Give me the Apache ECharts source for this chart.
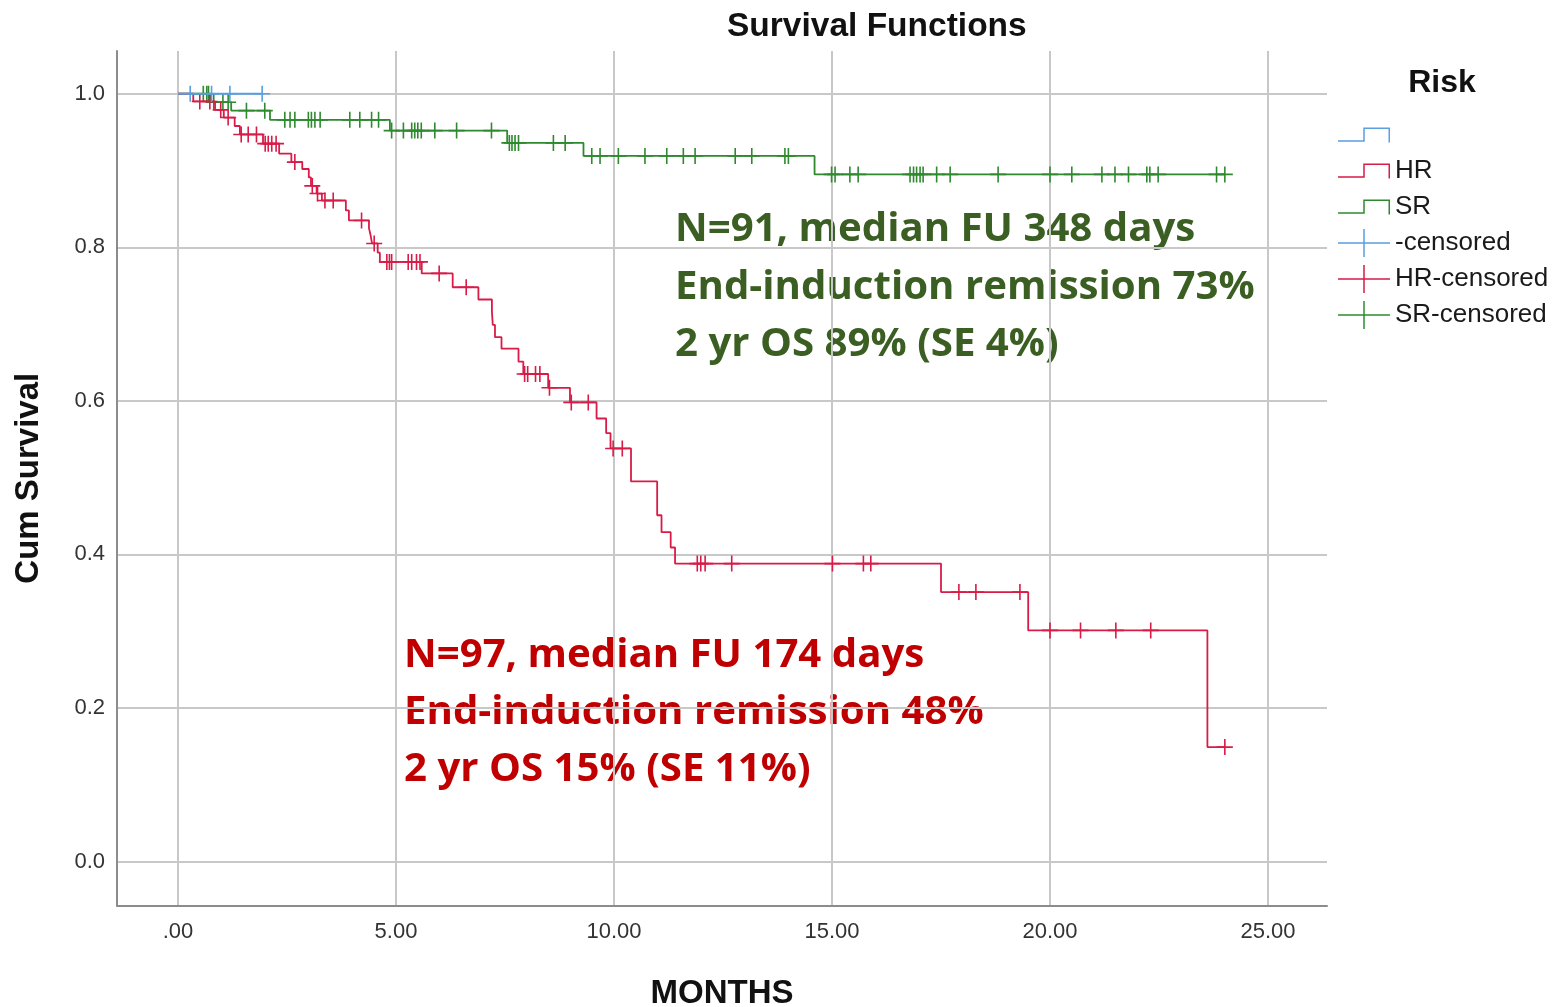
<!DOCTYPE html>
<html>
<head>
<meta charset="utf-8">
<script src="https://cdn.jsdelivr.net/npm/echarts@6/dist/echarts.min.js"></script>
<style>
html,body{margin:0;padding:0;background:#fff;}
#chart{width:1555px;height:1007px;}
</style>
</head>
<body>
<div id="chart"></div>
<script>
// ---- data (months, cumulative survival) ----
const xTicks = [0, 5, 10, 15, 20, 25];
const xTickLabels = ['.00', '5.00', '10.00', '15.00', '20.00', '25.00'];
const yTicks = [0, 0.2, 0.4, 0.6, 0.8, 1.0];
const yTickLabels = ['0.0', '0.2', '0.4', '0.6', '0.8', '1.0'];

const blankSteps = [[0, 1], [1.93, 1]];
const blankCensored = [[0.28, 1], [0.77, 1], [1.19, 1], [1.93, 1]];

const hrSteps = [
  [0, 1], [0.35, 0.990], [0.85, 0.979], [1.05, 0.969], [1.30, 0.958], [1.42, 0.947],
  [1.95, 0.935], [2.32, 0.922], [2.60, 0.911], [2.85, 0.902], [3.00, 0.891], [3.05, 0.880],
  [3.18, 0.870], [3.30, 0.861], [3.85, 0.848], [3.92, 0.835], [4.38, 0.825], [4.42, 0.815],
  [4.45, 0.805], [4.58, 0.793], [4.63, 0.781], [5.59, 0.766], [6.30, 0.748], [6.89, 0.732],
  [7.20, 0.716], [7.22, 0.699], [7.27, 0.683], [7.42, 0.668], [7.81, 0.651], [7.92, 0.635],
  [8.49, 0.617], [8.99, 0.598], [9.60, 0.577], [9.82, 0.558], [9.92, 0.538], [10.39, 0.495],
  [10.99, 0.451], [11.09, 0.429], [11.30, 0.409], [11.40, 0.388], [17.50, 0.351],
  [19.50, 0.301], [23.61, 0.149], [24.01, 0.149]
];
const hrCensored = [
  [0.50, 0.990], [0.73, 0.990], [0.98, 0.979], [1.15, 0.969], [1.45, 0.947], [1.61, 0.947],
  [1.80, 0.947], [2.00, 0.935], [2.07, 0.935], [2.15, 0.935], [2.25, 0.935], [2.68, 0.911],
  [3.08, 0.880], [3.20, 0.870], [3.37, 0.861], [3.56, 0.861], [4.21, 0.835], [4.50, 0.805],
  [4.79, 0.781], [4.85, 0.781], [4.90, 0.781], [5.28, 0.781], [5.36, 0.781], [5.47, 0.781],
  [5.55, 0.781], [5.99, 0.766], [6.61, 0.748], [7.95, 0.635], [8.02, 0.635], [8.20, 0.635],
  [8.30, 0.635], [8.52, 0.617], [9.02, 0.598], [9.41, 0.598], [9.98, 0.538], [10.19, 0.538],
  [11.91, 0.388], [11.99, 0.388], [12.09, 0.388], [12.70, 0.388], [15.01, 0.388],
  [15.72, 0.388], [15.89, 0.388], [17.91, 0.351], [18.30, 0.351], [19.31, 0.351],
  [20.00, 0.301], [20.70, 0.301], [21.51, 0.301], [22.31, 0.301], [24.01, 0.149]
];

const srSteps = [
  [0, 1], [0.75, 0.989], [1.22, 0.978], [2.11, 0.966], [4.86, 0.952], [7.55, 0.936],
  [9.30, 0.919], [14.60, 0.895], [24.01, 0.895]
];
const srCensored = [
  [0.58, 1], [0.66, 1], [0.70, 1],
  [0.82, 0.989], [1.03, 0.989], [1.15, 0.989],
  [1.57, 0.978], [1.99, 0.978],
  [2.45, 0.966], [2.57, 0.966], [2.68, 0.966], [2.99, 0.966], [3.06, 0.966], [3.14, 0.966],
  [3.26, 0.966], [3.94, 0.966], [4.17, 0.966], [4.44, 0.966], [4.60, 0.966],
  [4.90, 0.952], [5.17, 0.952], [5.36, 0.952], [5.43, 0.952], [5.50, 0.952], [5.58, 0.952],
  [5.89, 0.952], [6.39, 0.952], [7.19, 0.952],
  [7.60, 0.936], [7.66, 0.936], [7.73, 0.936], [7.81, 0.936], [8.61, 0.936], [8.88, 0.936],
  [9.49, 0.919], [9.68, 0.919], [10.10, 0.919], [10.71, 0.919], [11.21, 0.919], [11.59, 0.919],
  [11.86, 0.919], [12.78, 0.919], [13.16, 0.919], [13.92, 0.919], [14.00, 0.919],
  [14.99, 0.895], [15.07, 0.895], [15.41, 0.895], [15.60, 0.895], [16.79, 0.895], [16.87, 0.895],
  [16.94, 0.895], [17.02, 0.895], [17.09, 0.895], [17.40, 0.895], [17.71, 0.895], [18.81, 0.895],
  [20.00, 0.895], [20.50, 0.895], [21.19, 0.895], [21.49, 0.895], [21.80, 0.895], [22.22, 0.895],
  [22.29, 0.895], [22.48, 0.895], [23.82, 0.895], [24.01, 0.895]
];

const srNotes = ['N=91, median FU 348 days', 'End-induction remission 73%', '2 yr OS 89% (SE 4%)'];
const hrNotes = ['N=97, median FU 174 days', 'End-induction remission 48%', '2 yr OS 15% (SE 11%)'];

// ---- styles ----
const BLUE = '#5a9fe0', RED = '#d81b47', GREEN = '#2f8a2f';
const FONT = '"Liberation Sans", Arial, sans-serif';
const PLUS = 'path://M7.2,0H8.8V7.2H16V8.8H8.8V16H7.2V8.8H0V7.2H7.2Z';
const STEP_ICON = 'path://M0,12.75H25.25V0H52V15H50.5V1.5H26.75V14.25H0Z';
const CROSS_ICON = 'path://M0,13.25H25.25V0H26.75V13.25H52V14.75H26.75V28H25.25V14.75H0Z';

function stepSeries(name, data, color, z) {
  return { name, type: 'line', step: 'end', data, color, symbol: 'none', z,
    lineStyle: { width: 1.8, color }, emphasis: { disabled: true } };
}
function censorSeries(name, data, color, z) {
  return { name, type: 'scatter', data, color, symbol: PLUS, symbolSize: 16, z,
    itemStyle: { color, opacity: 1 }, emphasis: { disabled: true } };
}

const chart = echarts.init(document.getElementById('chart'), null, { renderer: 'canvas' });

const NOTE_FONT = 'bold 40.2px "Open Sans", sans-serif';
const noteGraphics = [];
srNotes.forEach((t, i) => noteGraphics.push({ type: 'text', x: 675, y: 230 + i * 57.5,
  style: { text: t, font: NOTE_FONT, fill: '#3b5e23', verticalAlign: 'middle' } }));
hrNotes.forEach((t, i) => noteGraphics.push({ type: 'text', x: 404, y: 656 + i * 57,
  style: { text: t, font: NOTE_FONT, fill: '#c00000', verticalAlign: 'middle' } }));
noteGraphics.push({ type: 'text', x: 1442, y: 83,
  style: { text: 'Risk', font: 'bold 32px ' + FONT, fill: '#111', align: 'center', verticalAlign: 'middle' } });

chart.setOption({
  animation: false,
  backgroundColor: '#fff',
  title: {
    text: 'Survival Functions', left: 722, top: 5,
    textStyle: { fontFamily: FONT, fontSize: 33.5, fontWeight: 'bold', color: '#111' }
  },
  grid: { left: 117, right: 228, top: 51, bottom: 101.5, containLabel: false, outerBoundsMode: 'none' },
  legend: [
    {
      orient: 'vertical', left: 1333, top: 117, itemWidth: 52, itemHeight: 15, itemGap: 10,
      icon: STEP_ICON, selectedMode: false,
      data: ['blank', 'HR', 'SR'],
      formatter: n => (n === 'blank' ? '\u00a0' : n),
      textStyle: { fontFamily: FONT, fontSize: 26, color: '#1a1a1a' }
    },
    {
      orient: 'vertical', left: 1333, top: 224, itemWidth: 52, itemHeight: 28, itemGap: 8,
      icon: CROSS_ICON, selectedMode: false,
      data: ['-censored', 'HR-censored', 'SR-censored'],
      textStyle: { fontFamily: FONT, fontSize: 26, color: '#1a1a1a' }
    }
  ],
  xAxis: {
    type: 'value', min: -1.399, max: 26.353,
    name: 'MONTHS', nameLocation: 'middle', nameGap: 72,
    nameTextStyle: { fontFamily: FONT, fontSize: 33, fontWeight: 'bold', color: '#111' },
    axisLine: { onZero: false, lineStyle: { color: '#8c8c8c', width: 2 } },
    axisTick: { show: false, customValues: xTicks },
    axisLabel: { customValues: xTicks, margin: 15, fontFamily: FONT, fontSize: 22, color: '#333',
      formatter: v => xTickLabels[xTicks.indexOf(v)] },
    splitLine: { show: true, lineStyle: { color: '#c8c8c8', width: 2 } }
  },
  yAxis: {
    type: 'value', min: -0.0573, max: 1.0557,
    name: 'Cum Survival', nameLocation: 'middle', nameGap: 72, nameRotate: 90,
    nameTextStyle: { fontFamily: FONT, fontSize: 33, fontWeight: 'bold', color: '#111' },
    axisLine: { show: true, onZero: false, lineStyle: { color: '#8c8c8c', width: 2 } },
    axisTick: { show: false, customValues: yTicks },
    axisLabel: { customValues: yTicks, margin: 12, fontFamily: FONT, fontSize: 22, color: '#333',
      formatter: v => yTickLabels[yTicks.indexOf(v)] },
    splitLine: { show: true, lineStyle: { color: '#c8c8c8', width: 2 } }
  },
  graphic: noteGraphics,
  series: [
    stepSeries('SR', srSteps, GREEN, 2),
    stepSeries('HR', hrSteps, RED, 3),
    stepSeries('blank', blankSteps, BLUE, 4),
    censorSeries('SR-censored', srCensored, GREEN, 2),
    censorSeries('HR-censored', hrCensored, RED, 3),
    censorSeries('-censored', blankCensored, BLUE, 4)
  ]
});
</script>
</body>
</html>
